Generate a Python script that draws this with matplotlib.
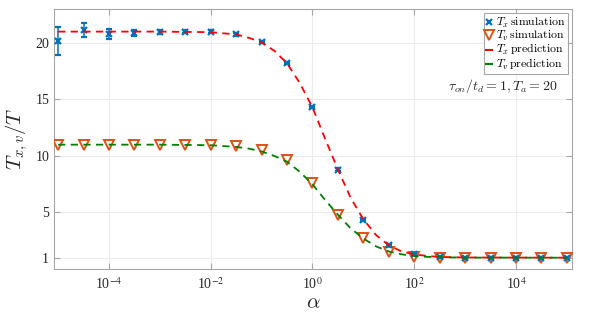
import matplotlib

matplotlib.use("Agg")

import matplotlib.pyplot as plt
import numpy as np
from matplotlib.lines import Line2D
from matplotlib.ticker import FixedLocator, FuncFormatter

plt.rcParams["font.family"] = "Liberation Serif"
plt.rcParams["mathtext.fontset"] = "cm"

# simulation points, one every half decade of alpha
log_alpha_sim = [-5, -4.5, -4, -3.5, -3, -2.5, -2, -1.5, -1, -0.5, 0,
                 0.5, 1, 1.5, 2, 2.5, 3, 3.5, 4, 4.5, 5]
tx_sim = [20.2, 21.15, 20.8, 20.85, 20.95, 21.0, 21.0, 20.75, 20.05, 18.25, 14.3,
          8.8, 4.35, 2.15, 1.35, 1.05, 1.0, 1.0, 1.0, 1.0, 1.0]
tx_err = [1.25, 0.65, 0.42, 0.28, 0.15, 0.12, 0.1, 0.1, 0.1, 0.1, 0.1,
          0.1, 0.1, 0.08, 0.06, 0.05, 0.04, 0.03, 0.03, 0.03, 0.03]
tv_sim = [11.0, 11.0, 11.0, 11.0, 11.0, 11.0, 10.95, 10.85, 10.5, 9.6, 7.6,
          4.8, 2.7, 1.5, 1.1, 1.0, 1.0, 1.0, 1.0, 1.0, 1.0]

# prediction curves
log_alpha_pred = [-5, -3, -2, -1.5, -1.25, -1, -0.75, -0.5, -0.25, 0, 0.25,
                  0.5, 0.75, 1, 1.25, 1.5, 1.75, 2, 2.25, 2.5, 3, 5]
tx_pred = [21.0, 21.0, 20.95, 20.75, 20.45, 20.05, 19.3, 18.2, 16.45, 14.3, 11.5,
           8.8, 6.3, 4.4, 3.0, 2.1, 1.55, 1.3, 1.15, 1.07, 1.02, 1.0]
tv_pred = [11.0, 11.0, 10.95, 10.8, 10.65, 10.4, 10.0, 9.5, 8.6, 7.5, 6.1,
           4.8, 3.6, 2.7, 2.0, 1.55, 1.3, 1.15, 1.08, 1.04, 1.01, 1.0]

x_ticks = [1e-4, 1e-2, 1e0, 1e2, 1e4]
y_ticks = [1, 5, 10, 15, 20]

blue = "#0072BD"
orange = "#D95319"
red = "#FF0000"
green = "#008000"
axis_grey = "#a6a6a6"

alpha_sim = np.power(10.0, log_alpha_sim)
alpha_pred = np.power(10.0, log_alpha_pred)

fig = plt.figure(figsize=(5.98, 3.16), dpi=100)
ax = fig.add_axes([0.0903, 0.1487, 0.8662, 0.8228])

ax.errorbar(alpha_sim, tx_sim, yerr=tx_err, fmt="x", color=blue,
            markersize=5, markeredgewidth=1.6, elinewidth=1.1, capsize=2.5,
            capthick=1.1, zorder=3)
ax.plot(alpha_sim, tv_sim, "v", color=orange, markerfacecolor="none",
        markersize=6.5, markeredgewidth=1.4, zorder=3)
ax.plot(alpha_pred, tx_pred, "--", color=red, linewidth=1.3, dashes=(4, 3),
        zorder=4)
ax.plot(alpha_pred, tv_pred, "--", color=green, linewidth=1.3, dashes=(4, 3),
        zorder=4)

ax.set_xscale("log")
ax.set_xlim(10 ** -5.08, 10 ** 5.1)
ax.set_ylim(0, 23)
ax.xaxis.set_major_locator(FixedLocator(x_ticks))
ax.xaxis.set_minor_locator(FixedLocator([]))
ax.xaxis.set_major_formatter(
    FuncFormatter(lambda v, pos: "10$^{%d}$" % round(np.log10(v))))
ax.set_yticks(y_ticks)

ax.grid(True, color="#ececec", linewidth=0.8)
ax.set_axisbelow(True)
for spine in ax.spines.values():
    spine.set_color(axis_grey)
    spine.set_linewidth(0.8)
ax.tick_params(direction="in", length=4, width=0.8, color=axis_grey,
               labelsize=10, labelcolor="#262626", top=True, right=True)
ax.tick_params(axis="x", pad=5)
for label in ax.get_xticklabels():
    label.set_math_fontfamily("stix")

ax.set_xlabel(r"$\alpha$", fontsize=15, color="#262626", labelpad=2)
ax.set_ylabel(r"$T_{x,v}/T$", fontsize=15, color="#262626", labelpad=4)

handles = [
    Line2D([], [], linestyle="none", marker="x", color=blue, markersize=5,
           markeredgewidth=1.6),
    Line2D([], [], linestyle="none", marker="v", color=orange,
           markerfacecolor="none", markersize=6.5, markeredgewidth=1.4),
    Line2D([], [], color=red, linewidth=1.5),
    Line2D([], [], color=green, linewidth=1.5),
]
labels = [r"$T_x\,\mathrm{simulation}$", r"$T_v\,\mathrm{simulation}$",
          r"$T_x\,\mathrm{prediction}$", r"$T_v\,\mathrm{prediction}$"]
legend = ax.legend(handles, labels, loc="upper right", fontsize=8.5,
                   handlelength=0.5, handleheight=0.3, handletextpad=0.3,
                   borderpad=0.2, labelspacing=-0.05, borderaxespad=0.35,
                   fancybox=False, framealpha=1, edgecolor=axis_grey)
legend.get_frame().set_linewidth(0.8)

ax.text(0.971, 0.704, r"$\tau_{on}/t_d = 1, T_a = 20$", transform=ax.transAxes,
        ha="right", va="center", fontsize=10, color="#262626")

fig.savefig("out.png", dpi=100)
